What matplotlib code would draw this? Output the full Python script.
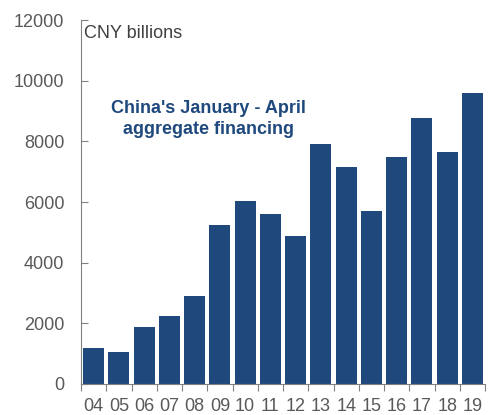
import matplotlib.pyplot as plt

plt.rcParams['font.family'] = ['Liberation Sans', 'DejaVu Sans']

# China's January-April aggregate financing, CNY billions
years = ['04', '05', '06', '07', '08', '09', '10', '11', '12', '13', '14', '15', '16', '17', '18', '19']
financing = [1190, 1060, 1880, 2240, 2900, 5240, 6030, 5600, 4880, 7910, 7150, 5700, 7480, 8770, 7640, 9590]

bar_color = '#1f497d'
grey = '#595959'
axis_grey = '#808080'

fig = plt.figure(figsize=(4.93, 4.15), dpi=100)
ax = fig.add_axes([0.1643, 0.0747, 0.8195, 0.8771])

x = list(range(len(years)))
ax.bar(x, financing, width=0.84, color=bar_color)

ax.set_xlim(-0.5, len(years) - 0.5)
ax.set_ylim(0, 12000)
ax.set_yticks(range(0, 12001, 2000))

# x ticks sit between bars, labels at bar centers
ax.set_xticks([i - 0.5 for i in range(len(years) + 1)])
ax.set_xticklabels([])
ax.set_xticks(x, minor=True)
ax.set_xticklabels(years, minor=True)
ax.tick_params(axis='x', which='major', direction='out', length=5, color=axis_grey)
ax.tick_params(axis='x', which='minor', length=0, pad=10, labelsize=13, labelcolor=grey)
ax.tick_params(axis='y', direction='in', length=5, color=axis_grey, pad=12,
               labelsize=13, labelcolor=grey)

for side in ['top', 'right']:
    ax.spines[side].set_visible(False)
for side in ['left', 'bottom']:
    ax.spines[side].set_color(axis_grey)

ax.text(0.008, 0.964, 'CNY billions', transform=ax.transAxes, va='center', ha='left',
        fontsize=13, color='#404040')
ax.text(0.316, 0.728, "China's January - April\naggregate financing", transform=ax.transAxes,
        va='center', ha='center', fontsize=13, fontweight='bold', color=bar_color,
        linespacing=1.3)

fig.savefig('out.png', dpi=100)
